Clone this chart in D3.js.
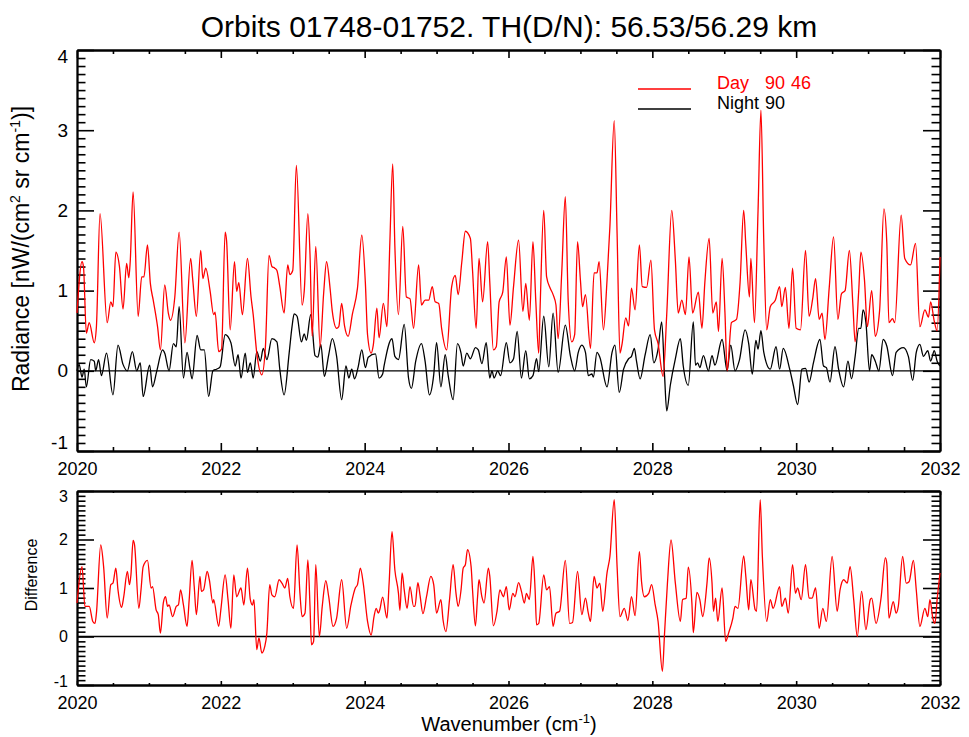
<!DOCTYPE html>
<html>
<head>
<meta charset="utf-8">
<script src="https://cdn.jsdelivr.net/npm/d3@7"></script>
<style>
  body { margin: 0; background: #fff; }
  text { font-family: "Liberation Sans", Arial, sans-serif; }
</style>
</head>
<body>
<div id="viz"></div>
<script>
'use strict';

const width = 969;
const height = 737;

// values: [wavenumber, radiance]
const dayPoints = [
  [2020.00,0.72],[2020.07,1.36],[2020.09,1.30],[2020.13,0.47],[2020.17,0.60],[2020.24,0.35],[2020.27,0.55],[2020.32,1.96],
  [2020.42,0.60],[2020.47,0.86],[2020.50,0.80],[2020.54,1.48],[2020.59,1.30],[2020.64,0.77],[2020.69,1.34],[2020.72,1.16],
  [2020.74,1.36],[2020.78,2.23],[2020.85,0.68],[2020.90,1.17],[2020.93,1.17],[2020.98,1.57],[2021.02,1.09],[2021.06,0.88],
  [2021.12,0.55],[2021.16,0.26],[2021.22,1.07],[2021.27,0.72],[2021.30,0.63],[2021.36,0.92],[2021.42,1.73],[2021.50,0.35],
  [2021.58,1.40],[2021.61,1.13],[2021.66,0.68],[2021.72,1.50],[2021.75,1.15],[2021.79,1.28],[2021.85,1.00],[2021.90,0.70],
  [2021.92,0.73],[2021.97,0.24],[2022.01,0.27],[2022.06,1.73],[2022.08,1.62],[2022.13,0.51],[2022.19,1.36],[2022.22,0.99],
  [2022.25,1.10],[2022.30,0.70],[2022.37,1.40],[2022.42,0.92],[2022.45,0.70],[2022.50,0.22],[2022.57,-0.05],[2022.62,0.30],
  [2022.67,1.44],[2022.71,1.30],[2022.75,1.28],[2022.78,1.25],[2022.82,1.05],[2022.88,0.72],[2022.93,1.32],[2022.96,1.20],
  [2023.00,1.25],[2023.05,2.56],[2023.13,0.82],[2023.16,1.00],[2023.21,1.96],[2023.24,1.45],[2023.27,0.43],[2023.32,1.55],
  [2023.38,0.30],[2023.43,0.97],[2023.47,1.36],[2023.52,1.02],[2023.55,0.74],[2023.61,0.53],[2023.64,0.55],[2023.68,0.84],
  [2023.72,0.56],[2023.77,0.43],[2023.83,0.71],[2023.90,1.03],[2023.96,1.69],[2024.01,1.09],[2024.04,0.45],[2024.09,0.22],
  [2024.12,0.32],[2024.17,0.78],[2024.20,0.41],[2024.26,0.84],[2024.31,0.55],[2024.35,1.59],[2024.39,2.58],[2024.42,1.55],
  [2024.47,0.70],[2024.53,1.80],[2024.58,0.92],[2024.63,0.90],[2024.68,0.53],[2024.75,1.32],[2024.79,0.82],[2024.84,0.88],
  [2024.89,0.88],[2024.94,1.05],[2024.98,0.86],[2025.03,0.84],[2025.07,0.53],[2025.14,0.26],[2025.21,1.05],[2025.26,1.19],
  [2025.30,0.95],[2025.35,1.35],[2025.40,1.74],[2025.47,1.65],[2025.50,1.25],[2025.55,0.53],[2025.59,1.40],[2025.64,0.86],
  [2025.71,1.61],[2025.74,1.10],[2025.79,0.26],[2025.83,0.30],[2025.87,0.86],[2025.92,0.98],[2025.97,1.42],[2026.02,0.57],
  [2026.07,1.05],[2026.14,1.63],[2026.20,0.74],[2026.24,1.09],[2026.29,0.63],[2026.34,1.61],[2026.38,0.86],[2026.42,0.22],
  [2026.44,0.80],[2026.49,2.00],[2026.53,1.17],[2026.58,1.03],[2026.62,0.95],[2026.66,0.82],[2026.69,0.40],[2026.74,1.22],
  [2026.79,2.17],[2026.83,0.88],[2026.88,0.36],[2026.92,0.45],[2026.96,1.61],[2027.00,1.13],[2027.03,0.80],[2027.07,0.95],
  [2027.14,0.28],[2027.19,1.22],[2027.23,1.22],[2027.26,1.36],[2027.32,0.51],[2027.37,1.13],[2027.41,1.80],[2027.47,3.12],
  [2027.51,1.71],[2027.55,0.22],[2027.58,0.34],[2027.63,0.66],[2027.67,0.56],[2027.71,1.03],[2027.76,0.76],[2027.82,1.57],
  [2027.86,1.05],[2027.92,1.04],[2027.98,1.38],[2028.03,0.51],[2028.08,0.34],[2028.15,-0.07],[2028.20,0.70],[2028.27,2.00],
  [2028.32,1.38],[2028.36,0.72],[2028.41,0.88],[2028.46,0.70],[2028.51,1.42],[2028.56,0.72],[2028.64,0.98],[2028.69,0.53],
  [2028.73,1.10],[2028.79,1.65],[2028.84,0.72],[2028.89,0.86],[2028.92,0.49],[2028.97,1.40],[2029.01,0.72],[2029.04,0.00],
  [2029.10,0.60],[2029.17,0.64],[2029.22,1.10],[2029.27,2.00],[2029.30,1.57],[2029.35,0.92],[2029.37,1.40],[2029.42,0.60],
  [2029.47,2.00],[2029.51,3.25],[2029.55,1.60],[2029.59,0.51],[2029.64,0.80],[2029.71,0.88],[2029.77,1.05],[2029.80,0.80],
  [2029.85,1.04],[2029.90,0.53],[2029.95,1.28],[2030.00,0.53],[2030.06,0.51],[2030.13,1.50],[2030.18,0.68],[2030.23,0.90],
  [2030.27,1.15],[2030.32,0.64],[2030.36,0.72],[2030.40,0.39],[2030.46,1.04],[2030.52,1.67],[2030.58,0.64],[2030.63,0.96],
  [2030.68,1.00],[2030.74,1.50],[2030.79,0.80],[2030.82,0.36],[2030.87,1.00],[2030.90,1.48],[2030.95,1.13],[2030.99,0.55],
  [2031.05,1.00],[2031.10,0.43],[2031.16,0.75],[2031.22,2.02],[2031.26,1.60],[2031.29,0.60],[2031.34,0.65],[2031.37,0.60],
  [2031.46,1.94],[2031.51,1.40],[2031.59,1.32],[2031.66,1.59],[2031.72,0.55],[2031.79,0.76],[2031.84,0.67],[2031.87,0.86],
  [2031.92,0.62],[2031.96,0.50],[2032.00,1.42]
];

const nightPoints = [
  [2020.00,0.00],[2020.03,0.08],[2020.07,-0.08],[2020.10,0.02],[2020.13,-0.20],[2020.19,0.14],[2020.24,0.12],[2020.26,0.00],
  [2020.30,0.14],[2020.34,-0.06],[2020.41,0.22],[2020.50,-0.30],[2020.57,0.32],[2020.64,0.08],[2020.70,0.00],[2020.77,0.24],
  [2020.83,0.00],[2020.88,0.10],[2020.92,-0.32],[2021.01,0.07],[2021.05,-0.20],[2021.11,0.00],[2021.19,0.26],[2021.22,0.22],
  [2021.28,0.00],[2021.34,0.34],[2021.38,0.30],[2021.42,0.80],[2021.48,-0.09],[2021.53,0.23],[2021.57,0.03],[2021.60,-0.10],
  [2021.67,0.44],[2021.72,0.26],[2021.77,0.26],[2021.83,-0.32],[2021.89,0.00],[2021.94,0.02],[2021.99,0.05],[2022.06,0.45],
  [2022.14,0.35],[2022.20,0.06],[2022.24,0.20],[2022.28,-0.09],[2022.34,0.22],[2022.37,-0.02],[2022.41,0.10],[2022.45,-0.09],
  [2022.50,0.24],[2022.55,0.12],[2022.59,0.28],[2022.64,0.14],[2022.71,0.40],[2022.78,0.36],[2022.82,0.02],[2022.88,-0.30],
  [2022.95,0.22],[2022.99,0.55],[2023.02,0.71],[2023.06,0.68],[2023.12,0.36],[2023.16,0.46],[2023.19,0.38],[2023.25,0.70],
  [2023.31,0.19],[2023.35,0.17],[2023.39,0.33],[2023.44,-0.07],[2023.50,0.20],[2023.55,0.40],[2023.61,0.18],[2023.68,-0.36],
  [2023.74,0.06],[2023.78,-0.09],[2023.82,0.02],[2023.86,-0.10],[2023.91,0.05],[2023.96,0.26],[2024.01,0.04],[2024.05,0.17],
  [2024.15,0.21],[2024.20,-0.09],[2024.25,-0.04],[2024.27,0.06],[2024.38,0.40],[2024.42,0.18],[2024.47,0.14],[2024.55,0.58],
  [2024.61,-0.09],[2024.65,-0.22],[2024.71,0.12],[2024.79,0.34],[2024.84,0.12],[2024.90,-0.30],[2024.96,-0.05],[2025.00,0.35],
  [2025.06,-0.20],[2025.12,0.20],[2025.16,-0.05],[2025.23,-0.36],[2025.29,0.34],[2025.34,0.22],[2025.37,0.06],[2025.42,0.22],
  [2025.47,0.15],[2025.54,0.29],[2025.58,0.26],[2025.63,0.09],[2025.69,0.35],[2025.74,-0.09],[2025.77,0.00],[2025.80,-0.09],
  [2025.85,0.00],[2025.89,-0.06],[2025.97,0.35],[2026.02,0.10],[2026.07,0.15],[2026.12,0.49],[2026.18,-0.09],[2026.24,0.25],
  [2026.29,-0.10],[2026.34,-0.06],[2026.39,0.15],[2026.42,-0.01],[2026.49,0.68],[2026.56,0.05],[2026.62,0.72],[2026.69,-0.02],
  [2026.79,0.57],[2026.86,0.19],[2026.92,0.00],[2026.97,0.23],[2027.02,0.32],[2027.07,0.23],[2027.11,-0.06],[2027.16,-0.04],
  [2027.18,-0.08],[2027.23,0.23],[2027.27,0.17],[2027.37,-0.20],[2027.44,0.23],[2027.48,0.32],[2027.54,-0.27],[2027.60,0.02],
  [2027.67,0.15],[2027.71,0.18],[2027.75,0.28],[2027.78,0.12],[2027.83,-0.10],[2027.90,0.20],[2027.97,0.45],[2028.02,0.10],
  [2028.08,0.27],[2028.13,0.61],[2028.17,-0.06],[2028.20,-0.50],[2028.25,-0.18],[2028.32,0.15],[2028.39,0.40],[2028.43,0.06],
  [2028.50,-0.18],[2028.57,0.61],[2028.60,0.07],[2028.63,0.10],[2028.66,0.04],[2028.71,0.19],[2028.78,0.00],[2028.83,0.19],
  [2028.87,0.07],[2028.97,0.39],[2029.04,0.00],[2029.09,0.32],[2029.15,0.00],[2029.21,0.13],[2029.29,0.51],[2029.34,0.34],
  [2029.39,-0.04],[2029.44,0.38],[2029.47,0.27],[2029.51,0.50],[2029.55,0.23],[2029.64,0.02],[2029.72,0.30],[2029.77,0.02],
  [2029.82,0.28],[2029.91,0.02],[2029.96,-0.18],[2030.02,-0.42],[2030.08,0.02],[2030.13,0.03],[2030.18,-0.14],[2030.24,0.10],
  [2030.33,0.39],[2030.38,0.06],[2030.42,0.04],[2030.47,-0.14],[2030.54,0.30],[2030.59,0.02],[2030.66,-0.20],[2030.72,0.12],
  [2030.77,-0.10],[2030.82,0.18],[2030.87,0.53],[2030.90,0.53],[2030.93,0.76],[2030.97,0.60],[2031.02,0.00],[2031.05,0.20],
  [2031.10,0.12],[2031.15,0.00],[2031.21,0.39],[2031.26,0.31],[2031.34,-0.06],[2031.39,0.23],[2031.49,0.29],[2031.56,0.18],
  [2031.62,-0.12],[2031.67,0.23],[2031.72,0.33],[2031.77,0.18],[2031.83,0.25],[2031.87,0.12],[2031.92,0.25],[2031.96,0.12],
  [2032.00,0.06]
];

const diffPoints = [
  [2020.00,0.69],[2020.07,1.44],[2020.11,0.62],[2020.17,0.62],[2020.22,0.31],[2020.25,0.27],[2020.27,0.48],[2020.33,1.89],
  [2020.37,1.44],[2020.42,0.38],[2020.47,1.07],[2020.50,1.10],[2020.54,1.41],[2020.57,0.96],[2020.62,0.60],[2020.65,0.82],
  [2020.70,1.34],[2020.73,1.07],[2020.75,1.27],[2020.78,1.98],[2020.80,1.89],[2020.86,0.58],[2020.89,0.96],[2020.92,1.44],
  [2020.98,1.57],[2021.03,1.00],[2021.05,1.03],[2021.10,0.55],[2021.13,0.45],[2021.16,0.07],[2021.20,0.69],[2021.23,0.82],
  [2021.26,0.62],[2021.28,0.65],[2021.33,0.41],[2021.38,0.62],[2021.41,0.65],[2021.44,0.96],[2021.48,0.65],[2021.53,0.21],
  [2021.56,0.76],[2021.60,1.57],[2021.63,1.03],[2021.66,0.45],[2021.71,1.24],[2021.73,0.93],[2021.76,0.96],[2021.81,1.34],
  [2021.84,1.17],[2021.89,0.69],[2021.90,0.76],[2021.97,0.21],[2022.00,0.55],[2022.06,1.27],[2022.10,0.76],[2022.14,0.17],
  [2022.18,1.27],[2022.22,0.82],[2022.28,1.00],[2022.32,0.65],[2022.37,1.41],[2022.41,0.76],[2022.44,0.65],[2022.46,0.76],
  [2022.50,-0.27],[2022.53,-0.03],[2022.57,-0.34],[2022.61,-0.21],[2022.64,0.07],[2022.68,1.07],[2022.71,0.86],[2022.75,0.82],
  [2022.81,1.17],[2022.85,1.10],[2022.89,1.00],[2022.93,1.20],[2022.96,0.82],[2023.01,0.58],[2023.06,1.89],[2023.10,0.89],
  [2023.13,0.41],[2023.17,0.48],[2023.21,1.58],[2023.24,0.62],[2023.26,-0.17],[2023.29,-0.10],[2023.32,1.48],[2023.37,0.00],
  [2023.41,0.62],[2023.46,1.15],[2023.50,0.82],[2023.56,0.21],[2023.61,0.38],[2023.68,1.17],[2023.75,0.17],[2023.81,0.65],
  [2023.87,1.00],[2023.90,1.07],[2023.94,1.41],[2023.98,1.10],[2024.04,0.31],[2024.09,0.03],[2024.13,0.41],[2024.16,0.58],
  [2024.19,0.48],[2024.21,0.55],[2024.25,0.81],[2024.31,0.38],[2024.34,1.10],[2024.38,2.16],[2024.42,1.37],[2024.47,0.89],
  [2024.49,0.54],[2024.52,1.31],[2024.55,0.96],[2024.59,0.58],[2024.63,1.03],[2024.68,0.62],[2024.70,0.63],[2024.74,1.11],
  [2024.77,0.85],[2024.81,0.47],[2024.86,0.82],[2024.92,1.24],[2024.96,1.07],[2025.00,0.48],[2025.06,0.76],[2025.09,0.34],
  [2025.13,0.10],[2025.18,0.76],[2025.23,1.48],[2025.27,0.89],[2025.30,0.62],[2025.34,0.96],[2025.37,1.41],[2025.40,1.48],
  [2025.43,1.79],[2025.48,1.44],[2025.50,0.96],[2025.54,0.22],[2025.57,0.82],[2025.59,1.17],[2025.63,0.82],[2025.66,0.69],
  [2025.72,1.41],[2025.74,1.24],[2025.79,0.22],[2025.84,0.52],[2025.88,0.96],[2025.93,0.82],[2025.97,1.03],[2026.01,0.55],
  [2026.06,0.89],[2026.09,0.82],[2026.14,1.11],[2026.18,0.93],[2026.22,0.69],[2026.25,0.89],[2026.29,0.76],[2026.34,1.65],
  [2026.37,0.96],[2026.39,0.24],[2026.42,0.27],[2026.49,1.27],[2026.53,0.96],[2026.57,1.03],[2026.62,0.21],[2026.66,0.48],
  [2026.71,0.52],[2026.79,1.57],[2026.85,0.27],[2026.89,0.29],[2026.96,1.34],[2027.02,0.45],[2027.07,0.79],[2027.11,0.48],
  [2027.14,0.31],[2027.19,1.24],[2027.23,1.00],[2027.27,1.10],[2027.31,0.52],[2027.37,1.31],[2027.41,1.65],[2027.47,2.82],
  [2027.51,1.44],[2027.55,0.41],[2027.61,0.58],[2027.66,0.33],[2027.71,0.82],[2027.76,0.43],[2027.82,1.75],[2027.85,1.13],
  [2027.89,0.82],[2027.95,0.89],[2027.99,1.07],[2028.04,0.65],[2028.08,0.31],[2028.14,-0.72],[2028.17,0.07],[2028.21,1.10],
  [2028.26,1.99],[2028.32,1.10],[2028.39,0.31],[2028.42,0.76],[2028.47,0.79],[2028.50,1.43],[2028.55,0.69],[2028.57,0.08],
  [2028.62,0.91],[2028.66,0.76],[2028.70,0.41],[2028.76,1.10],[2028.79,1.62],[2028.83,1.10],[2028.85,0.52],[2028.88,0.79],
  [2028.91,0.31],[2028.97,1.00],[2029.02,-0.10],[2029.06,0.07],[2029.12,0.38],[2029.15,0.62],[2029.19,0.58],[2029.27,1.66],
  [2029.30,1.24],[2029.34,0.55],[2029.37,1.17],[2029.43,0.55],[2029.45,0.52],[2029.50,2.82],[2029.53,1.65],[2029.59,0.31],
  [2029.64,0.76],[2029.68,0.58],[2029.77,1.03],[2029.80,0.62],[2029.85,0.79],[2029.89,0.48],[2029.95,1.48],[2029.99,0.89],
  [2030.02,1.00],[2030.07,0.76],[2030.13,1.48],[2030.18,0.79],[2030.22,0.79],[2030.27,1.00],[2030.32,0.17],[2030.37,0.58],
  [2030.42,0.31],[2030.50,1.65],[2030.57,0.52],[2030.61,0.96],[2030.66,1.17],[2030.71,1.10],[2030.75,1.44],[2030.80,0.76],
  [2030.85,0.00],[2030.91,0.93],[2030.97,0.14],[2031.03,0.76],[2031.05,0.79],[2031.11,0.27],[2031.18,0.79],[2031.24,1.62],
  [2031.26,1.51],[2031.29,0.38],[2031.35,0.72],[2031.39,0.48],[2031.42,0.62],[2031.48,1.65],[2031.53,1.10],[2031.57,1.13],
  [2031.63,1.57],[2031.67,0.96],[2031.72,0.21],[2031.79,0.58],[2031.83,0.41],[2031.86,0.76],[2031.90,0.38],[2031.93,0.27],
  [2031.96,0.76],[2032.00,1.31]
];

const xTicks = [2020, 2022, 2024, 2026, 2028, 2030, 2032];
const topYTicks = [-1, 0, 1, 2, 3, 4];
const botYTicks = [-1, 0, 1, 2, 3];
const titleText = "Orbits 01748-01752. TH(D/N): 56.53/56.29 km";
const legendNames = ["Day", "Night"];
const legendNums = [["90", "46"], ["90"]];
const legendColors = ["#ff0000", "#000000"];

const svg = d3.select("#viz")
    .append("svg")
    .attr("width", width)
    .attr("height", height);

svg.append("rect").attr("width", width).attr("height", height).attr("fill", "#fff");

const left = 77, right = 940;
const x = d3.scaleLinear().domain([2020, 2032]).range([left, right]);
const yTop = d3.scaleLinear().domain([-1, 4]).range([451, 50]);
const yBot = d3.scaleLinear().domain([-1, 3]).range([685, 491]);

const xMinor = d3.range(2020, 2032.01, 0.5).filter(d => !xTicks.includes(d));

function minorY(domain) {
    let out = [];
    for (let i = domain[0] * 10; i <= domain[1] * 10; i++) {
        if (i % 10 !== 0) out.push(i / 10);
    }
    return out;
}

function styleAxis(g, size) {
    g.attr("font-family", null).attr("font-size", size);
    g.selectAll("text").attr("fill", "#000");
    g.selectAll("line").attr("stroke", "#000").attr("stroke-width", 1.6);
    g.selectAll("path.domain").attr("stroke", "#000").attr("stroke-width", 1.8);
}

// endShift: how far the lowest / highest y labels are pulled inside the box
function drawFrame(y, yTicks, labelSize, xTickLen, endShift) {
    const [y0, y1] = y.range();
    const [dLo, dHi] = y.domain();
    const minY = minorY(y.domain());
    // y axes, ticks pointing inward
    svg.append("g").attr("transform", `translate(${left},0)`)
        .call(d3.axisLeft(y).tickValues(yTicks).tickSize(-17).tickSizeOuter(0)
            .tickPadding(9).tickFormat(d => String(d)))
        .call(g => styleAxis(g, labelSize))
        .call(g => g.selectAll("text")
            .attr("y", d => d === dLo ? -endShift[0] : d === dHi ? endShift[1] : 0));
    svg.append("g").attr("transform", `translate(${left},0)`)
        .call(d3.axisLeft(y).tickValues(minY).tickSize(-8.5).tickSizeOuter(0).tickFormat(""))
        .call(g => styleAxis(g, labelSize));
    svg.append("g").attr("transform", `translate(${right},0)`)
        .call(d3.axisRight(y).tickValues(yTicks).tickSize(-17).tickSizeOuter(0).tickFormat(""))
        .call(g => styleAxis(g, labelSize));
    svg.append("g").attr("transform", `translate(${right},0)`)
        .call(d3.axisRight(y).tickValues(minY).tickSize(-8.5).tickSizeOuter(0).tickFormat(""))
        .call(g => styleAxis(g, labelSize));
    // x axes
    svg.append("g").attr("transform", `translate(0,${y0})`)
        .call(d3.axisBottom(x).tickValues(xTicks).tickSize(-xTickLen).tickSizeOuter(0)
            .tickPadding(11).tickFormat(d => String(d)))
        .call(g => styleAxis(g, 18));
    svg.append("g").attr("transform", `translate(0,${y0})`)
        .call(d3.axisBottom(x).tickValues(xMinor).tickSize(-xTickLen / 2).tickSizeOuter(0).tickFormat(""))
        .call(g => styleAxis(g, 18));
    svg.append("g").attr("transform", `translate(0,${y1})`)
        .call(d3.axisTop(x).tickValues(xTicks).tickSize(-xTickLen).tickSizeOuter(0).tickFormat(""))
        .call(g => styleAxis(g, 18));
    svg.append("g").attr("transform", `translate(0,${y1})`)
        .call(d3.axisTop(x).tickValues(xMinor).tickSize(-xTickLen / 2).tickSizeOuter(0).tickFormat(""))
        .call(g => styleAxis(g, 18));
    // zero line
    svg.append("line")
        .attr("x1", left).attr("x2", right)
        .attr("y1", y(0)).attr("y2", y(0))
        .attr("stroke", "#000").attr("stroke-width", 1.3);
}

function drawLine(points, y, color) {
    const line = d3.line()
        .curve(d3.curveMonotoneX)
        .x(d => x(d[0]))
        .y(d => y(d[1]));
    svg.append("path")
        .datum(points)
        .attr("fill", "none")
        .attr("stroke", color)
        .attr("stroke-width", 1.3)
        .attr("stroke-linejoin", "round")
        .attr("d", line);
}

// top panel
drawFrame(yTop, topYTicks, 19, 8, [9, 6]);
drawLine(nightPoints, yTop, "#000");
drawLine(dayPoints, yTop, "#ff0000");

// bottom panel
drawFrame(yBot, botYTicks, 16, 4, [4, 5]);
drawLine(diffPoints, yBot, "#ff0000");

// title
svg.append("text")
    .attr("x", 509).attr("y", 37)
    .attr("text-anchor", "middle")
    .attr("font-size", 30)
    .text(titleText);

// legend
legendNames.forEach((name, i) => {
    const ly = 89 + i * 20;
    svg.append("line")
        .attr("x1", 638).attr("x2", 691)
        .attr("y1", ly).attr("y2", ly)
        .attr("stroke", legendColors[i]).attr("stroke-width", 1.3);
    const t = svg.append("text")
        .attr("y", ly)
        .attr("font-size", 18)
        .attr("fill", legendColors[i]);
    t.append("tspan").attr("x", 717).text(name);
    legendNums[i].forEach((n, j) => {
        t.append("tspan").attr("x", 765 + j * 26).text(n);
    });
});

// y labels
const radLabel = svg.append("text")
    .attr("transform", "translate(29,249) rotate(-90)")
    .attr("text-anchor", "middle")
    .attr("font-size", 23);
radLabel.append("tspan").text("Radiance [nW/(cm");
radLabel.append("tspan").attr("dy", -9).attr("font-size", 14).text("2");
radLabel.append("tspan").attr("dy", 9).text(" sr cm");
radLabel.append("tspan").attr("dy", -9).attr("font-size", 14).text("-1");
radLabel.append("tspan").attr("dy", 9).text(")]");

svg.append("text")
    .attr("transform", "translate(37,575) rotate(-90)")
    .attr("text-anchor", "middle")
    .attr("font-size", 16)
    .text("Difference");

const xLabel = svg.append("text")
    .attr("x", 509).attr("y", 731)
    .attr("text-anchor", "middle")
    .attr("font-size", 20);
xLabel.append("tspan").text("Wavenumber (cm");
xLabel.append("tspan").attr("dy", -8).attr("font-size", 13).text("-1");
xLabel.append("tspan").attr("dy", 8).text(")");
</script>
</body>
</html>
